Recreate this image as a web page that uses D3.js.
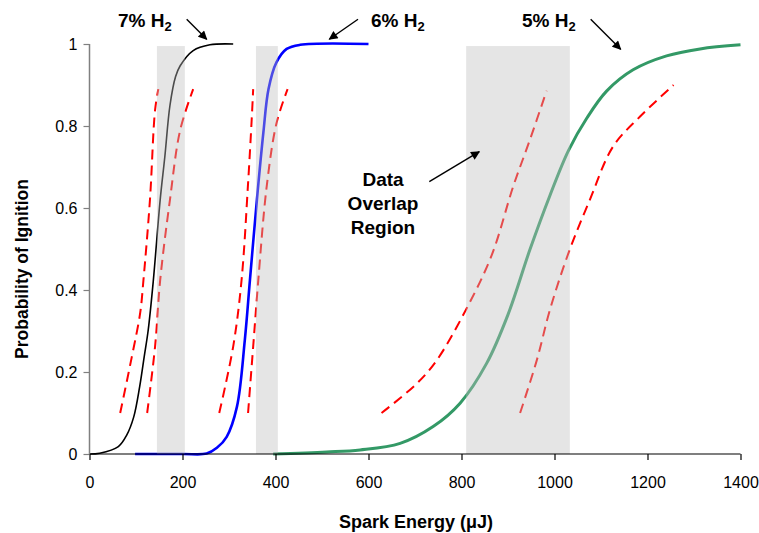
<!DOCTYPE html>
<html><head><meta charset="utf-8">
<script src="https://cdn.jsdelivr.net/npm/d3@7"></script>
<style>
body{margin:0;background:#fff;}
text{font-family:"Liberation Sans",Arial,sans-serif;}
</style></head>
<body>
<svg id="c" width="759" height="533"></svg>
<script>
// ---- data ----
const xTicks = [0,200,400,600,800,1000,1200,1400];
const yTicks = [0,0.2,0.4,0.6,0.8,1];
const yTickLabels = ["0","0.2","0.4","0.6","0.8","1"];

const curve7 = [[0,0],[22,0.002],[62,0.018],[80,0.046],[95,0.09],[108,0.165],[118,0.24],[126,0.30],[137,0.42],[152,0.62],[162,0.725],[173,0.85],[185,0.92],[195,0.947],[223,0.984],[259,0.998],[309,1]];
const curve6 = [[98,0],[200,0],[252,0.001],[274,0.015],[295,0.042],[317,0.115],[334,0.278],[345,0.424],[360,0.62],[374,0.785],[385,0.89],[402,0.955],[424,0.988],[453,0.998],[600,1]];
const curve5 = [[395,0],[510,0.005],[582,0.01],[668,0.026],[739,0.067],[797,0.124],[854,0.221],[900,0.34],[947,0.498],[990,0.63],[1030,0.74],[1070,0.82],[1112,0.885],[1169,0.937],[1241,0.971],[1313,0.988],[1400,0.998]];

const bound7L = [[66,0.10],[91,0.237],[109,0.344],[116,0.424],[130,0.62],[141,0.839],[148,0.89]];
const bound7R = [[124,0.10],[141,0.262],[152,0.424],[173,0.62],[195,0.79],[223,0.89]];
const bound6L = [[279,0.10],[309,0.262],[327,0.424],[341,0.66],[349,0.82],[352,0.89]];
const bound6R = [[341,0.10],[352,0.262],[363,0.424],[381,0.652],[402,0.806],[426,0.89]];
const bound5L = [[628,0.10],[704,0.172],[747,0.229],[811,0.355],[865,0.485],[911,0.652],[947,0.766],[983,0.886]];
const bound5R = [[926,0.10],[962,0.229],[990,0.351],[1030,0.49],[1076,0.62],[1126,0.75],[1184,0.823],[1256,0.90]];

const overlapRegions = [[145,205],[358,405],[810,1033]];
const overlapTop = 0.995;

// ---- layout ----
const svg = d3.select("#c");
const x = d3.scaleLinear().domain([0,1400]).range([89.5,740.5]);
const y = d3.scaleLinear().domain([0,1]).range([454,44]);

const line = d3.line().x(d=>x(d[0])).y(d=>y(d[1])).curve(d3.curveCatmullRom.alpha(0.5));
const lineB = d3.line().x(d=>x(d[0])).y(d=>y(d[1])).curve(d3.curveCatmullRom.alpha(0.5));

// bounds (red dashed)
[bound7L,bound7R,bound6L,bound6R,bound5L,bound5R].forEach(b=>{
  svg.append("path").attr("d",lineB(b)).attr("fill","none")
    .attr("stroke","#FF0000").attr("stroke-width",2).attr("stroke-dasharray","10,6");
});

// curves
svg.append("path").attr("d",line(curve7)).attr("fill","none").attr("stroke","#000").attr("stroke-width",1.6);
svg.append("path").attr("d",line(curve6)).attr("fill","none").attr("stroke","#0000FF").attr("stroke-width",2.6);
svg.append("path").attr("d",line(curve5)).attr("fill","none").attr("stroke","#339966").attr("stroke-width",3);

// overlap shading (drawn on top, semi-transparent)
svg.selectAll("rect.ov").data(overlapRegions).enter().append("rect")
  .attr("class","ov")
  .attr("x",d=>x(d[0])).attr("width",d=>x(d[1])-x(d[0]))
  .attr("y",y(overlapTop)).attr("height",y(0)-y(overlapTop))
  .attr("fill","#bdbdbd").attr("opacity",0.4);

// axes
const xAxis = d3.axisBottom(x).tickValues(xTicks).tickSize(6).tickFormat(d3.format("d"));
const gx = svg.append("g").attr("transform",`translate(0,${y(0)})`).call(xAxis);
gx.select(".domain").attr("stroke","#000").attr("stroke-width",1.2).attr("d",`M${x(0)},0H${x(1400)}`);
gx.selectAll(".tick line").attr("stroke","#000").attr("stroke-width",1.2);
gx.selectAll(".tick text").attr("font-size",16).attr("y",34).attr("dy",0).attr("fill","#000")
  .style("font-family","'Liberation Sans',Arial,sans-serif");

const yAxis = d3.axisLeft(y).tickValues(yTicks).tickSize(6).tickFormat((d,i)=>yTickLabels[i]);
const gy = svg.append("g").attr("transform",`translate(${x(0)},0)`).call(yAxis);
gy.select(".domain").attr("stroke","#808080").attr("stroke-width",1.5).attr("d",`M0,${y(0)}V${y(1)}`);
gy.selectAll(".tick line").attr("stroke","#808080").attr("stroke-width",1.2);
gy.selectAll(".tick text").attr("font-size",16).attr("x",-12).attr("fill","#000")
  .style("font-family","'Liberation Sans',Arial,sans-serif");

// axis titles
svg.append("text").attr("x",416).attr("y",528).attr("text-anchor","middle")
  .attr("font-size",18).attr("font-weight","bold").text("Spark Energy (μJ)");
svg.append("text").attr("transform","translate(28,269) rotate(-90)").attr("text-anchor","middle")
  .attr("font-size",17.5).attr("font-weight","bold").text("Probability of Ignition");

// annotations
function label(tx,ty,pct){
  const t = svg.append("text").attr("x",tx).attr("y",ty).attr("font-size",19).attr("font-weight","bold");
  t.append("tspan").text(pct+" H");
  t.append("tspan").attr("font-size",13).attr("dy",4).text("2");
}
label(118,27,"7%");
label(371,27,"6%");
label(522,27,"5%");

const defs = svg.append("defs");
defs.append("marker").attr("id","ah").attr("viewBox","0 0 10 10").attr("refX",9).attr("refY",5)
  .attr("markerWidth",11).attr("markerHeight",9).attr("markerUnits","userSpaceOnUse").attr("orient","auto")
  .append("path").attr("d","M0,0L10,5L0,10z").attr("fill","#000");

const arrows = [[186.7,19.3,206.7,39.3],[358,19.3,329.3,39.3],[590.7,19.3,620.7,49.3],[429.3,181.7,479.3,151.7]];
arrows.forEach(a=>{
  svg.append("line").attr("x1",a[0]).attr("y1",a[1]).attr("x2",a[2]).attr("y2",a[3])
    .attr("stroke","#000").attr("stroke-width",1.4).attr("marker-end","url(#ah)");
});

const ov = ["Data","Overlap","Region"];
ov.forEach((s,i)=>{
  svg.append("text").attr("x",383).attr("y",186+i*24).attr("text-anchor","middle")
    .attr("font-size",19).attr("font-weight","bold").text(s);
});
</script>
</body></html>
